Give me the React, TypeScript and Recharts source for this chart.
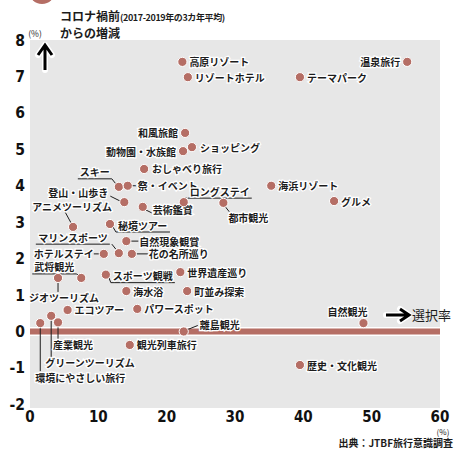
import React from 'react';
import { CartesianGrid, ReferenceLine, Scatter, ScatterChart, XAxis, YAxis } from 'recharts';

// 旅行タイプ別：選択率(%) と コロナ禍前(2017-2019年平均)からの増減(ポイント)
const activities = [
  '高原リゾート', 'リゾートホテル', '温泉旅行', 'テーマパーク', '和風旅館', '動物園・水族館',
  'ショッピング', 'おしゃべり旅行', 'スキー', '祭・イベント', '登山・山歩き', '芸術鑑賞',
  'ロングステイ', '都市観光', '海浜リゾート', 'グルメ', 'アニメツーリズム', '秘境ツアー',
  '自然現象観賞', 'マリンスポーツ', '花の名所巡り', 'ホテルステイ', '武将観光', 'ジオツーリズム',
  'スポーツ観戦', '世界遺産巡り', '海水浴', '町並み探索', 'エコツアー', 'パワースポット',
  '環境にやさしい旅行', 'グリーンツーリズム', '産業観光', '離島観光', '自然観光', '観光列車旅行',
  '歴史・文化観光',
];
const selectionRate = [
  22.3, 23.1, 55.2, 39.5, 22.7, 22.4,
  23.7, 16.7, 13.0, 14.3, 13.8, 16.5,
  22.5, 28.3, 35.3, 44.5, 6.3, 11.7,
  14.1, 13.0, 14.9, 10.8, 7.5, 4.1,
  11.1, 22.0, 14.1, 23.0, 5.5, 15.7,
  1.5, 3.1, 4.1, 22.5, 48.8, 14.6,
  39.5,
];
const changeFromPreCovid = [
  7.4, 6.98, 7.4, 6.98, 5.45, 4.95,
  5.06, 4.46, 3.97, 4.0, 3.55, 3.42,
  3.55, 3.53, 4.0, 3.58, 2.87, 2.95,
  2.48, 2.15, 2.13, 2.13, 1.47, 1.47,
  1.56, 1.63, 1.11, 1.11, 0.59, 0.62,
  0.23, 0.43, 0.25, 0.0, 0.23, -0.37,
  -0.92,
];
const xTicks = [0, 10, 20, 30, 40, 50, 60];
const yTicks = [-2, -1, 0, 1, 2, 3, 4, 5, 6, 7, 8];

const rows = activities.map((name, i) => ({ name, x: selectionRate[i], y: changeFromPreCovid[i] }));

type Anchor = 'start' | 'end' | 'middle';
type Placement = {
  dx: number;
  dy: number;
  anchor?: Anchor;
  underline?: boolean;
  line?: [number, number, number, number];
};

// label offsets relative to each dot
const placement: Record<string, Placement> = {
  '温泉旅行': { dx: -7, dy: 0, anchor: 'end' },
  '和風旅館': { dx: -7, dy: 0, anchor: 'end' },
  '動物園・水族館': { dx: -7, dy: 0, anchor: 'end' },
  'ショッピング': { dx: 8, dy: 0 },
  'おしゃべり旅行': { dx: 8, dy: 0 },
  'スキー': { dx: -9, dy: -15, anchor: 'end', underline: true, line: [-7, -8, -3, -3] },
  '祭・イベント': { dx: 10, dy: 0, line: [4, 0, 9, 0] },
  '登山・山歩き': { dx: -16, dy: -10, anchor: 'end', line: [-14, -6, -4, -1] },
  '芸術鑑賞': { dx: 10, dy: 3, line: [3, 3, 9, 6] },
  'ロングステイ': { dx: 6, dy: -11, underline: true, line: [1, -4, 3, -4] },
  '都市観光': { dx: 5, dy: 15, line: [2, 4, 6, 9] },
  'アニメツーリズム': { dx: -1, dy: -20, anchor: 'middle', line: [-8, -15, -2, -4] },
  '秘境ツアー': { dx: 8, dy: 1, underline: true, line: [3, 3, 6, 8] },
  '自然現象観賞': { dx: 13, dy: 0, line: [4, 0, 12, 0] },
  'マリンスポーツ': { dx: -11, dy: -16, anchor: 'end', underline: true, line: [-7, -9, -3, -4] },
  '花の名所巡り': { dx: 17, dy: 0, line: [4, 0, 16, 0] },
  'ホテルステイ': { dx: -10, dy: 0, anchor: 'end', line: [-10, 0, -4, 0] },
  '武将観光': { dx: -7, dy: -11, anchor: 'end', underline: true, line: [-5, -4, -3, -3] },
  'ジオツーリズム': { dx: 6, dy: 20, anchor: 'middle', line: [0, 4, 0, 14] },
  'スポーツ観戦': { dx: 7, dy: 1, underline: true, line: [3, 3, 5, 8] },
  '離島観光': { dx: 16, dy: -7, line: [4, -2, 14, -6] },
  '自然観光': { dx: 4, dy: -12, anchor: 'end' },
  '環境にやさしい旅行': { dx: -5, dy: 54, line: [0, 4, 0, 48] },
  'グリーンツーリズム': { dx: -6, dy: 47, line: [0, 4, 0, 41] },
  '産業観光': { dx: -5, dy: 22, line: [0, 4, 0, 17] },
};

const DOT = '#b56e65';
const INK = '#1c1c1c';
const JP = '"Noto Sans CJK JP", sans-serif';
const NUM = '"Liberation Sans Narrow", "DejaVu Sans Condensed", sans-serif';
const FS = 10;

function DotLabel(props: any) {
  const { cx, cy, payload } = props;
  const p = placement[payload.name] ?? { dx: 7, dy: 0 };
  const anchor = p.anchor ?? 'start';
  const w = payload.name.length * FS;
  const x0 = anchor === 'start' ? p.dx : anchor === 'end' ? p.dx - w : p.dx - w / 2;
  return (
    <g>
      {p.line && (
        <line
          x1={cx + p.line[0]} y1={cy + p.line[1]} x2={cx + p.line[2]} y2={cy + p.line[3]}
          stroke={INK} strokeWidth={1}
        />
      )}
      {p.underline && (
        <line
          x1={cx + x0 - 2} y1={cy + p.dy + 7} x2={cx + x0 + w + 2} y2={cy + p.dy + 7}
          stroke={INK} strokeWidth={1}
        />
      )}
      <circle cx={cx} cy={cy} r={4.6} fill={DOT} stroke="#fff" strokeWidth={1} />
      <text
        x={cx + p.dx} y={cy + p.dy} dominantBaseline="central" textAnchor={anchor}
        fontFamily={JP} fontSize={FS} fontWeight={700} fill={INK}
        stroke="#fff" strokeWidth={2.5} paintOrder="stroke"
      >
        {payload.name}
      </text>
    </g>
  );
}

function YTick(props: any) {
  const { y, payload } = props;
  return (
    <text x={25} y={y + 5.5} textAnchor="end" fontFamily={NUM} fontSize={15.5} fontWeight={700} fill="#111">
      {payload.value}
    </text>
  );
}

function XTick(props: any) {
  const { x, payload } = props;
  return (
    <text x={x} y={422} textAnchor="middle" fontFamily={NUM} fontSize={15} fontWeight={700} fill="#111">
      {payload.value}
    </text>
  );
}

export default function App() {
  return (
    <div style={{ position: 'absolute', left: 0, top: 0, width: 455, height: 450, background: '#fff' }}>
      <ScatterChart width={455} height={450} margin={{ top: 40, right: 15, bottom: 22, left: 0 }}>
        <CartesianGrid horizontal={false} vertical={false} fill="#e7e7e7" stroke="none" />
        <XAxis
          type="number" dataKey="x" domain={[0, 60]} ticks={xTicks} height={20}
          axisLine={false} tickLine={false} tick={<XTick />} interval={0}
        />
        <YAxis
          type="number" dataKey="y" domain={[-2.1, 8]} ticks={yTicks} width={30}
          axisLine={false} tickLine={false} tick={<YTick />} interval={0}
        />
        <ReferenceLine y={0} stroke="#fff" strokeWidth={9} />
        <ReferenceLine y={0} stroke={DOT} strokeWidth={6} />
        <Scatter data={rows} shape={<DotLabel />} isAnimationActive={false} />
      </ScatterChart>
      <svg
        width={455} height={450}
        style={{ position: 'absolute', left: 0, top: 0, pointerEvents: 'none' }}
      >
        <circle cx={42} cy={-9} r={13} fill={DOT} />
        <text x={60} y={21} fontFamily={JP} fontSize={12} fontWeight={700} fill={INK}>
          コロナ禍前
          <tspan fontSize={9} letterSpacing={-0.4}>(2017-2019年の3カ年平均)</tspan>
        </text>
        <text x={60} y={38} fontFamily={JP} fontSize={12} fontWeight={700} fill={INK}>
          からの増減
        </text>
        <text x={35} y={37} textAnchor="middle" fontFamily={JP} fontSize={8.5} fill={INK}>(%)</text>
        <g stroke="#fff" strokeWidth={6} fill="none" strokeLinecap="round" strokeLinejoin="round">
          <path d="M45 70 V47 M38 55 L45 45 L52 55" />
          <path d="M386 315 H408 M400 309 L409 315 L400 321" />
        </g>
        <g stroke="#000" strokeWidth={3} fill="none" strokeLinejoin="miter">
          <path d="M45 70 V47 M38 55 L45 45 L52 55" />
          <path d="M386 315 H408 M400 309 L409 315 L400 321" />
        </g>
        <text x={412} y={320} fontFamily={JP} fontSize={13} fill={INK}>選択率</text>
        <text x={443} y={435} textAnchor="middle" fontFamily={JP} fontSize={8} fill={INK}>(%)</text>
        <text x={453} y={447} textAnchor="end" fontFamily={JP} fontSize={10} fontWeight={700} fill={INK}>
          出典：JTBF旅行意識調査
        </text>
      </svg>
    </div>
  );
}
